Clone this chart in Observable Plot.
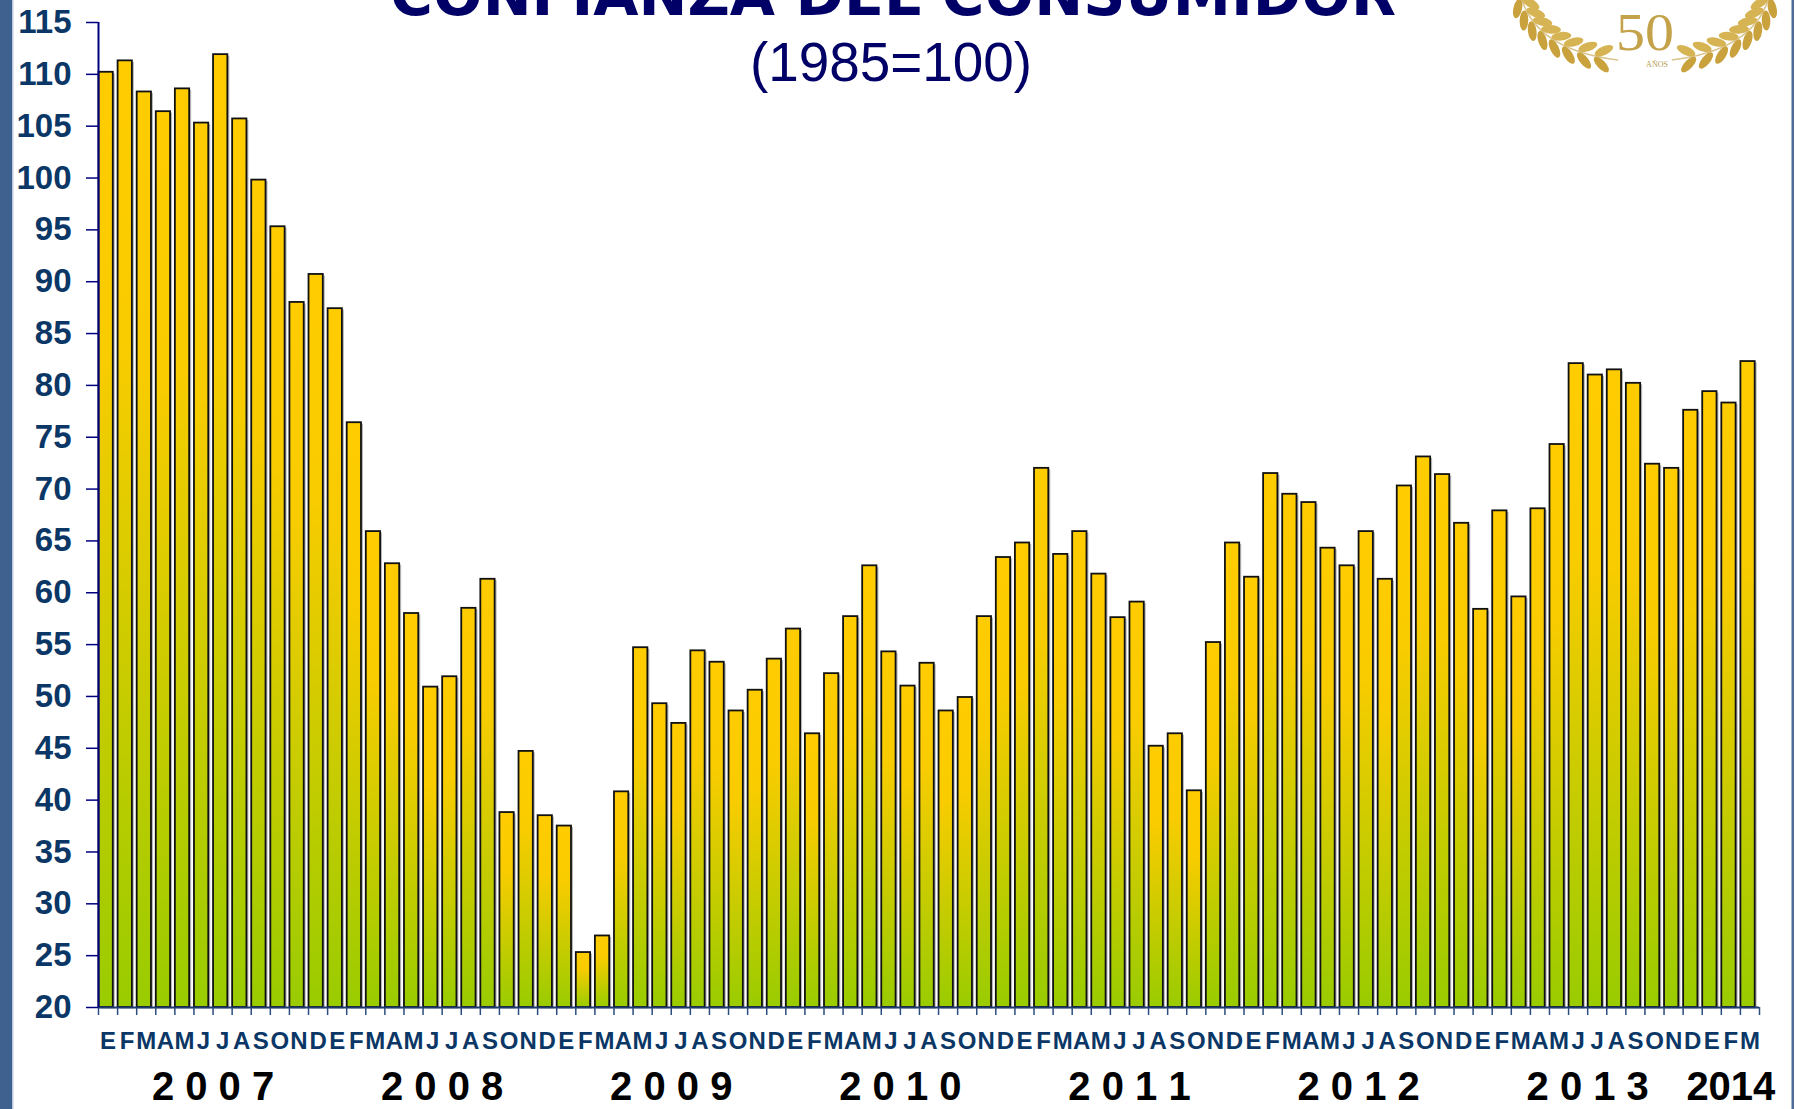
<!DOCTYPE html>
<html><head><meta charset="utf-8">
<script src="https://cdn.jsdelivr.net/npm/d3@7"></script>
<script src="https://cdn.jsdelivr.net/npm/@observablehq/plot@0.6"></script>
<style>
html,body{margin:0;padding:0;background:#fff;}
#wrap{position:relative;width:1795px;height:1109px;overflow:hidden;background:#fff;}
#chart{position:absolute;left:0;top:0;}
#overlay{position:absolute;left:0;top:0;pointer-events:none;}
</style></head><body>
<div id="wrap"><div id="chart"></div><svg id="overlay" width="1795" height="1109"></svg></div>
<script>
// ---- data ----
const monthLetters = ["E","F","M","A","M","J","J","A","S","O","N","D"];
const years = [2007, 2008, 2009, 2010, 2011, 2012, 2013, 2014];
const yearLabels = ["2 0 0 7","2 0 0 8","2 0 0 9","2 0 1 0","2 0 1 1","2 0 1 2","2 0 1 3","2014"];
const v2007 = [110.2,111.3,108.3,106.4,108.6,105.3,111.9,105.7,99.8,95.3,88.0,90.7];
const v2008 = [87.4,76.4,65.9,62.8,58.0,50.9,51.9,58.5,61.3,38.8,44.7,38.5];
const v2009 = [37.5,25.3,26.9,40.8,54.7,49.3,47.4,54.4,53.3,48.6,50.6,53.6];
const v2010 = [56.5,46.4,52.2,57.7,62.6,54.3,51.0,53.2,48.6,49.9,57.7,63.4];
const v2011 = [64.8,72.0,63.7,65.9,61.8,57.6,59.1,45.2,46.4,40.9,55.2,64.8];
const v2012 = [61.5,71.5,69.5,68.7,64.3,62.6,65.9,61.3,70.3,73.1,71.4,66.7];
const v2013 = [58.4,67.9,59.6,68.1,74.3,82.1,81.0,81.5,80.2,72.4,72.0,77.6];
const v2014 = [79.4,78.3,82.3];
const yTicks = [20,25,30,35,40,45,50,55,60,65,70,75,80,85,90,95,100,105,110,115];
const title = "CONFIANZA DEL CONSUMIDOR";
const subtitle = "(1985=100)";

// ---- table ----
const series = [v2007, v2008, v2009, v2010, v2011, v2012, v2013, v2014];
const rows = [];
const yearRows = [];
series.forEach((arr, yi) => {
  const start = rows.length;
  arr.forEach((v, m) => rows.push({i: rows.length, year: years[yi], month: monthLetters[m], v}));
  yearRows.push({label: yearLabels[yi], mid: start + arr.length / 2});
});
const base = yTicks[0];

const barOpts = {x1: "i", x2: d => d.i + 1, y1: base, y2: "v", insetLeft: 0.5, insetRight: 4.3};

const chart = Plot.plot({
  width: 1795, height: 1109,
  marginLeft: 98, marginRight: 36, marginTop: 22, marginBottom: 102,
  style: {fontFamily: "'Liberation Sans', Arial, sans-serif", background: "transparent", overflow: "visible"},
  x: {type: "linear", domain: [0, rows.length]},
  y: {domain: [yTicks[0], yTicks[yTicks.length - 1]]},
  marks: [
    Plot.rect(rows, {...barOpts, fill: "#b8b8b8", dx: 2, dy: 1.5}),
    Plot.rect(rows, {...barOpts, fill: "url(#barGrad)", stroke: "#111", strokeWidth: 1.8}),
    Plot.ruleX(d3.range(rows.length + 1), {x: d => d, y1: base, y2: base, insetBottom: -8, stroke: "#2b4c7e", strokeWidth: 1.5}),
    Plot.ruleY([base], {stroke: "#1d3b70", strokeWidth: 2}),
    Plot.ruleX([0], {stroke: "#000080", strokeWidth: 2}),
    Plot.axisY({ticks: yTicks, tickSize: 12, tickPadding: 15, fontSize: 33, fontWeight: "bold",
      color: "#0b3766", fill: "#0b3766", stroke: "#000080", strokeWidth: 1.5, label: null}),
    Plot.axisX({ticks: rows.map(d => d.i + 0.5), tickFormat: t => rows[Math.floor(t)].month,
      tickSize: 0, tickPadding: 24, fontSize: 24, fontWeight: "bold", color: "#0b3766", fill: "#0b3766", label: null}),
    Plot.text(yearRows, {x: "mid", text: "label", frameAnchor: "bottom", lineAnchor: "bottom", dy: 92,
      fontSize: 40, fontWeight: "bold", fill: "#000"})
  ]
});
document.getElementById("chart").appendChild(chart);

// gradient for bars
const svgSel = d3.select(chart.tagName.toLowerCase() === "svg" ? chart : chart.querySelector("svg"));
const defs = svgSel.insert("defs", ":first-child");
const grad = defs.append("linearGradient").attr("id", "barGrad").attr("x1", 0).attr("y1", 0).attr("x2", 0).attr("y2", 1);
grad.append("stop").attr("offset", "0%").attr("stop-color", "#FFCC00");
grad.append("stop").attr("offset", "30%").attr("stop-color", "#F9CC00");
grad.append("stop").attr("offset", "100%").attr("stop-color", "#99CC00");

// ---- overlay: frame decoration, title, logo ----
const ov = d3.select("#overlay");
ov.append("rect").attr("x", 0).attr("y", 0).attr("width", 12).attr("height", 1109).attr("fill", "#3e6190");
ov.append("rect").attr("x", 12).attr("y", 0).attr("width", 1.5).attr("height", 1109).attr("fill", "#b9c9dd");
ov.append("rect").attr("x", 1791.5).attr("y", 0).attr("width", 2.5).attr("height", 1109).attr("fill", "#4d6d98");

ov.append("text").text(title)
  .attr("x", 893).attr("y", 15).attr("text-anchor", "middle")
  .attr("font-family", "'DejaVu Sans', Verdana, sans-serif").attr("font-weight", "bold")
  .attr("font-size", 58).attr("fill", "#000066")
  .attr("textLength", 1006).attr("lengthAdjust", "spacingAndGlyphs");
ov.append("text").text(subtitle)
  .attr("x", 891).attr("y", 81).attr("text-anchor", "middle")
  .attr("font-family", "'Liberation Sans Narrow', 'Liberation Sans', Arial, sans-serif")
  .attr("font-size", 56).attr("fill", "#000066")
  .attr("textLength", 282).attr("lengthAdjust", "spacingAndGlyphs");

// logo (laurel wreath "50 AÑOS")
const logo = ov.append("g");
const cx = 1645;
function branch(mirror) {
  const P0 = [1522, 0], P1 = [1538, 50], P2 = [1618, 60];
  const pt = t => [ (1-t)*(1-t)*P0[0] + 2*(1-t)*t*P1[0] + t*t*P2[0], (1-t)*(1-t)*P0[1] + 2*(1-t)*t*P1[1] + t*t*P2[1] ];
  const tan = t => [ 2*(1-t)*(P1[0]-P0[0]) + 2*t*(P2[0]-P1[0]), 2*(1-t)*(P1[1]-P0[1]) + 2*t*(P2[1]-P1[1]) ];
  const mx = x => mirror ? 2*cx - x : x;
  const g = logo.append("g");
  const path = d3.path(); path.moveTo(mx(P0[0]), P0[1]); path.quadraticCurveTo(mx(P1[0]), P1[1], mx(P2[0]), P2[1]);
  g.append("path").attr("d", path.toString()).attr("fill", "none").attr("stroke", "#d9c38e").attr("stroke-width", 1.5);
  for (let k = 0; k < 8; k++) {
    const t = 0.06 + k * 0.12;
    const p = pt(t), d = tan(t);
    let ang = Math.atan2(d[1], d[0]) * 180 / Math.PI;
    const len = Math.hypot(d[0], d[1]);
    const nx = -d[1] / len, ny = d[0] / len;
    [[1, 35], [-1, -35]].forEach(([s, rot]) => {
      let x = p[0] + s * nx * 7, y = p[1] + s * ny * 7, a = ang + rot;
      if (mirror) { x = 2*cx - x; a = 180 - a; }
      g.append("ellipse").attr("cx", x).attr("cy", y).attr("rx", 10).attr("ry", 4.3)
        .attr("transform", `rotate(${a},${x},${y})`).attr("fill", s > 0 ? "#c9a23e" : "#d6b454");
    });
  }
}
branch(false); branch(true);
logo.append("text").text("50").attr("x", cx).attr("y", 50).attr("text-anchor", "middle")
  .attr("font-family", "'Liberation Serif', 'DejaVu Serif', serif").attr("font-size", 52).attr("fill", "#c4a24a")
  .attr("textLength", 58).attr("lengthAdjust", "spacingAndGlyphs");
logo.append("text").text("AÑOS").attr("x", cx + 12).attr("y", 67).attr("text-anchor", "middle")
  .attr("font-family", "'Liberation Serif', serif").attr("font-size", 8).attr("fill", "#b89a50");
</script>
</body></html>
